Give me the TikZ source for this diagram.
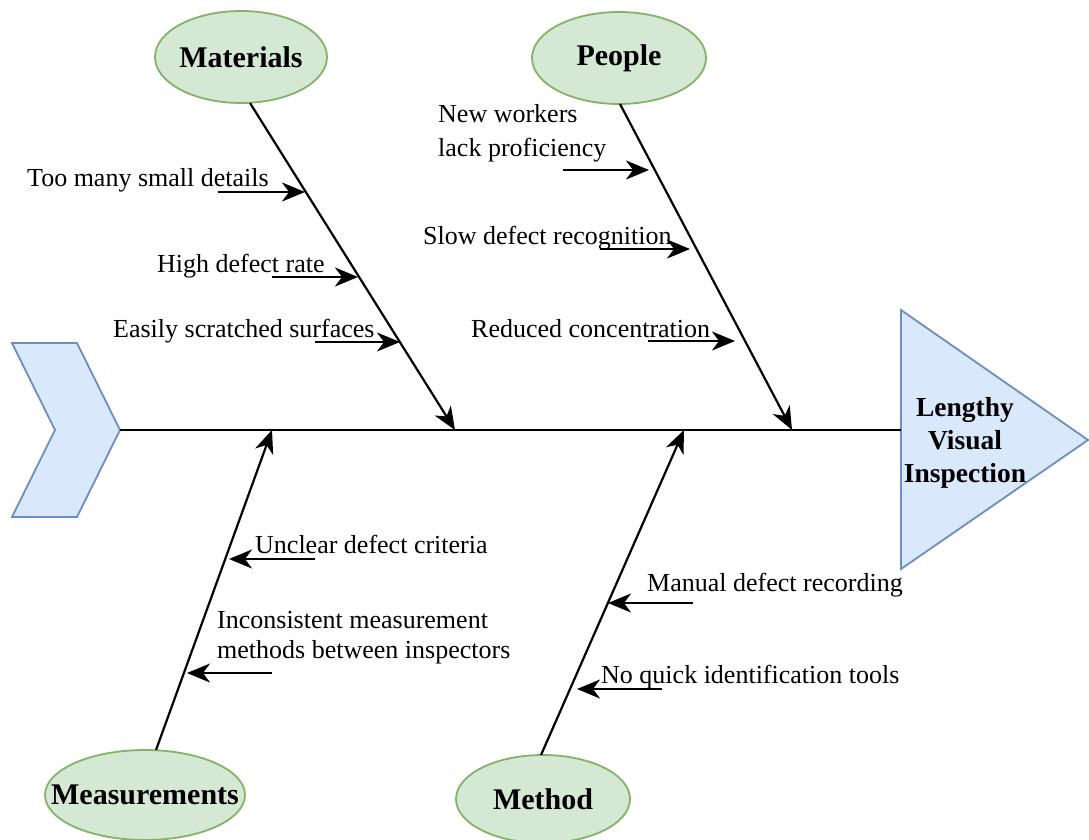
\documentclass[tikz,border=0pt]{standalone}
\usepackage{fontspec}
\setmainfont{Liberation Serif}
\usetikzlibrary{shapes.geometric,arrows.meta}
\definecolor{bluefill}{HTML}{DAE8FC}
\definecolor{bluedraw}{HTML}{6C8EBF}
\definecolor{greenfill}{HTML}{D5E8D4}
\definecolor{greendraw}{HTML}{82B366}
\tikzset{
 cat/.style={ellipse, draw=greendraw, fill=greenfill, line width=1.8pt, inner sep=0pt, font=\fontsize{30}{34}\selectfont\bfseries},
 bone/.style={line width=2.2pt, -{Stealth[length=23pt,width=19pt,inset=7pt]}},
 subarr/.style={line width=2.2pt, -{Stealth[length=23pt,width=19pt,inset=7pt]}},
 lbl/.style={anchor=base west, inner sep=0pt, align=left, font=\fontsize{26}{31}\selectfont},
 shapeb/.style={draw=bluedraw, fill=bluefill, line width=1.8pt, line join=miter}
}
\begin{document}
\begin{tikzpicture}[x=1pt,y=-1pt]
\useasboundingbox (0,0) rectangle (1089,840);
% tail chevron
\coordinate (tail) at (120,430);
\draw[shapeb] (12,343) -- (77,343) -- (tail) -- (77,517) -- (12,517) -- (55,430) -- cycle;
% head triangle
\coordinate (headL) at (901,430);
\draw[shapeb] (901,310) -- (1088,440) -- (901,569) -- cycle;
\node[font=\fontsize{27.5}{33}\selectfont\bfseries, align=center, inner sep=0pt] (head) at (965,443) {Lengthy\\Visual\\Inspection};
% spine
\draw[line width=2.5pt] (tail) -- (headL);
% categories
\node[cat, minimum width=172pt, minimum height=92pt] (mat) at (241,57) {\makebox[0pt]{Materials}};
\node[cat, minimum width=174pt, minimum height=92pt] (peo) at (619,58) {\makebox[0pt]{People}};
\node[cat, minimum width=200pt, minimum height=90pt] (mea) at (145,795) {\makebox[0pt]{Measurements}};
\node[cat, minimum width=174pt, minimum height=88pt] (met) at (543,799) {\makebox[0pt]{Method}};
% bones
\coordinate (matS) at (250,103); \coordinate (matE) at (455,430);
\coordinate (peoS) at (620,104); \coordinate (peoE) at (792,430);
\coordinate (meaS) at (156,750); \coordinate (meaE) at (272,430);
\coordinate (metS) at (541,755); \coordinate (metE) at (684,430);
\draw[bone] (matS) -- (matE);
\draw[bone] (peoS) -- (peoE);
\draw[bone] (meaS) -- (meaE);
\draw[bone] (metS) -- (metE);
% Materials causes
\node[lbl] (m1) at (27,186) {Too many small details};
\node[lbl] (m2) at (157,272) {High defect rate};
\node[lbl] (m3) at (113,337) {Easily scratched surfaces};
\coordinate (m1a) at (218,192); \coordinate (m1b) at (305,192);
\coordinate (m2a) at (272,277); \coordinate (m2b) at (358,277);
\coordinate (m3a) at (315,342); \coordinate (m3b) at (400,342);
\draw[subarr] (m1a) -- (m1b);
\draw[subarr] (m2a) -- (m2b);
\draw[subarr] (m3a) -- (m3b);
% People causes
\node[lbl, font=\fontsize{26}{33}\selectfont] (p1) at (438,156) {New workers\\lack proficiency};
\node[lbl] (p2) at (423,244) {Slow defect recognition};
\node[lbl] (p3) at (471,337) {Reduced concentration};
\coordinate (p1a) at (563,170); \coordinate (p1b) at (649,170);
\coordinate (p2a) at (600,249); \coordinate (p2b) at (690,249);
\coordinate (p3a) at (648,341); \coordinate (p3b) at (735,341);
\draw[subarr] (p1a) -- (p1b);
\draw[subarr] (p2a) -- (p2b);
\draw[subarr] (p3a) -- (p3b);
% Measurements causes
\node[lbl] (s1) at (255,553) {Unclear defect criteria};
\node[lbl, font=\fontsize{26}{30}\selectfont] (s2) at (217,658) {Inconsistent measurement\\methods between inspectors};
\coordinate (s1a) at (315,559); \coordinate (s1b) at (229,559);
\coordinate (s2a) at (272,673); \coordinate (s2b) at (187,673);
\draw[subarr] (s1a) -- (s1b);
\draw[subarr] (s2a) -- (s2b);
% Method causes
\node[lbl] (d1) at (647,591) {Manual defect recording};
\node[lbl] (d2) at (601,683) {No quick identification tools};
\coordinate (d1a) at (693,603); \coordinate (d1b) at (608,603);
\coordinate (d2a) at (662,689); \coordinate (d2b) at (577,689);
\draw[subarr] (d1a) -- (d1b);
\draw[subarr] (d2a) -- (d2b);
\end{tikzpicture}
\end{document}
